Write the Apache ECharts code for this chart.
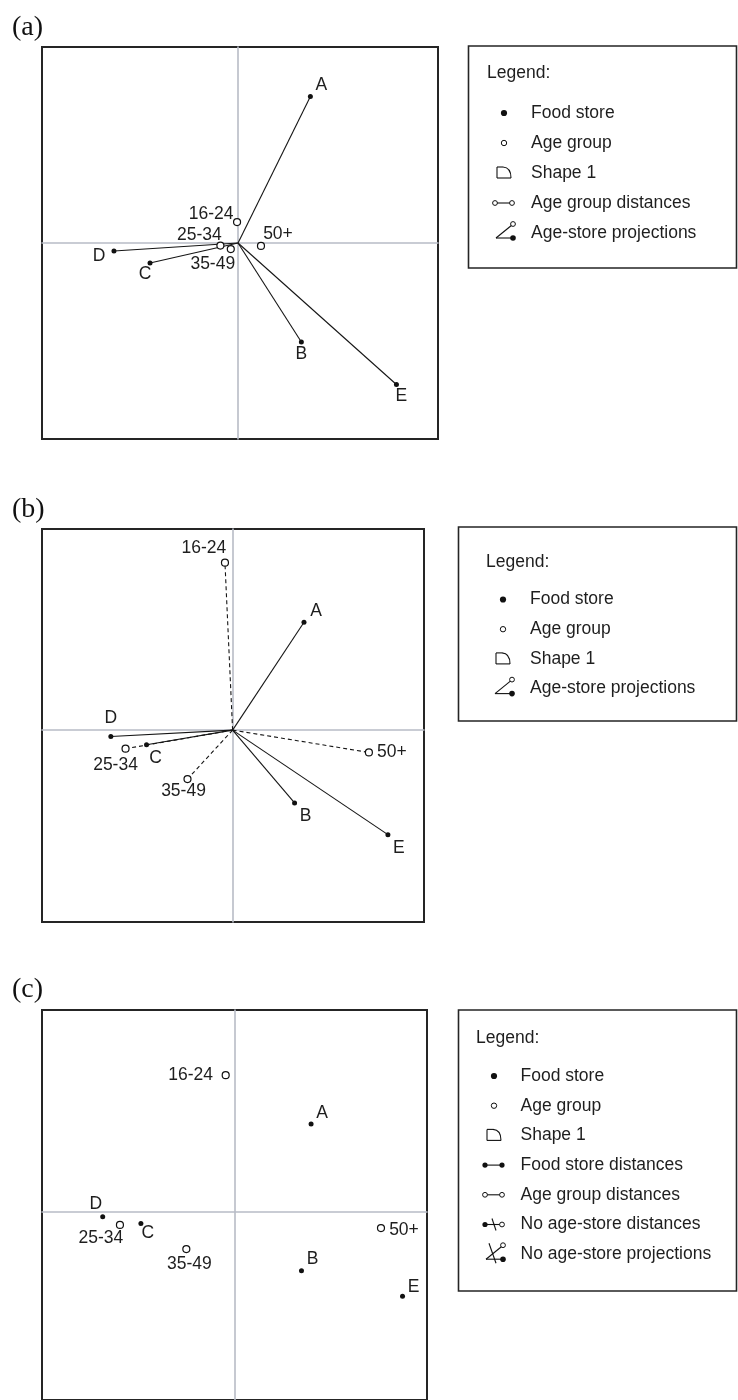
<!DOCTYPE html>
<html>
<head>
<meta charset="utf-8">
<script src="https://cdn.jsdelivr.net/npm/echarts@6/dist/echarts.min.js"></script>
<style>
html,body{margin:0;padding:0;background:#fff;}
#chart{width:738px;height:1400px;}
</style>
</head>
<body>
<div id="chart"></div>
<script>
// ---------- data ----------
const stores = ['A', 'B', 'C', 'D', 'E'];
const ageGroups = ['16-24', '25-34', '35-49', '50+'];

// panel (a)
const storeXA = [0.369, 0.323, -0.449, -0.633, 0.808];
const storeYA = [0.748, -0.505, -0.102, -0.041, -0.722];
const ageXA = [-0.005, -0.090, -0.037, 0.117];
const ageYA = [0.107, -0.013, -0.031, -0.015];

// panel (b)
const storeXB = [0.364, 0.316, -0.439, -0.621, 0.792];
const storeYB = [0.551, -0.372, -0.075, -0.033, -0.534];
const ageXB = [-0.039, -0.546, -0.230, 0.695];
const ageYB = [0.855, -0.095, -0.250, -0.114];

// panel (c)
const storeXC = [0.389, 0.340, -0.480, -0.675, 0.856];
const storeYC = [0.451, -0.303, -0.060, -0.026, -0.434];
const ageXC = [-0.047, -0.587, -0.248, 0.746];
const ageYC = [0.702, -0.068, -0.192, -0.084];

const panelTitles = ['(a)', '(b)', '(c)'];
const legendTitle = 'Legend:';
const legendA = ['Food store', 'Age group', 'Shape 1', 'Age group distances', 'Age-store projections'];
const legendB = ['Food store', 'Age group', 'Shape 1', 'Age-store projections'];
const legendC = ['Food store', 'Age group', 'Shape 1', 'Food store distances', 'Age group distances', 'No age-store distances', 'No age-store projections'];

// ---------- styling / layout (not data) ----------
const FONT = '"Liberation Sans", Arial, sans-serif';
const FS = 17.5;
const TXT = '#1e1e1e';
const AXIS_GRAY = '#b8bcc6';

const labelOffA = {
  'A': [11, -11], 'B': [0, 12], 'C': [-5, 11], 'D': [-15, 5], 'E': [5, 12],
  '16-24': [-26, -8], '25-34': [-21, -10], '35-49': [-18, 15], '50+': [17, -12]
};
const labelOffB = {
  'A': [12, -11], 'B': [11, 13], 'C': [9, 13], 'D': [0, -18], 'E': [11, 14],
  '16-24': [-21, -15], '25-34': [-10, 16], '35-49': [-4, 12], '50+': [23, 0]
};
const labelOffC = {
  'A': [11, -11], 'B': [11, -11], 'C': [7, 10], 'D': [-7, -13], 'E': [11, -9],
  '16-24': [-35, 0], '25-34': [-19, 13], '35-49': [3, 15], '50+': [23, 2]
};

const panels = [
  {grid: {left: 42, top: 47, width: 396, height: 392}, x: [-1.0, 1.02], y: [-1.0, 1.0],
   sx: storeXA, sy: storeYA, ax: ageXA, ay: ageYA, off: labelOffA, storeLines: true, ageLines: false},
  {grid: {left: 42, top: 529, width: 382, height: 393}, x: [-0.972, 0.976], y: [-0.98, 1.027],
   sx: storeXB, sy: storeYB, ax: ageXB, ay: ageYB, off: labelOffB, storeLines: true, ageLines: true},
  {grid: {left: 42, top: 1010, width: 385, height: 393}, x: [-0.985, 0.981], y: [-0.968, 1.037],
   sx: storeXC, sy: storeYC, ax: ageXC, ay: ageYC, off: labelOffC, storeLines: false, ageLines: false}
];

const grids = [], xAxes = [], yAxes = [], series = [];
panels.forEach((p, i) => {
  grids.push(Object.assign({show: true, borderColor: '#252525', borderWidth: 2, backgroundColor: 'transparent'}, p.grid));
  const axBase = {
    type: 'value', gridIndex: i,
    axisLine: {show: true, onZero: true, lineStyle: {color: AXIS_GRAY, width: 1.6}},
    axisTick: {show: false}, axisLabel: {show: false}, splitLine: {show: false}
  };
  xAxes.push(Object.assign({}, axBase, {min: p.x[0], max: p.x[1]}));
  yAxes.push(Object.assign({}, axBase, {min: p.y[0], max: p.y[1]}));

  if (p.storeLines) {
    series.push({
      type: 'lines', coordinateSystem: 'cartesian2d', xAxisIndex: i, yAxisIndex: i, z: 2,
      lineStyle: {color: '#151515', width: 1.1, opacity: 1, type: 'solid'},
      data: stores.map((s, k) => ({coords: [[0, 0], [p.sx[k], p.sy[k]]]}))
    });
  }
  if (p.ageLines) {
    series.push({
      type: 'lines', coordinateSystem: 'cartesian2d', xAxisIndex: i, yAxisIndex: i, z: 2,
      lineStyle: {color: '#151515', width: 1.1, opacity: 1, type: [4, 3]},
      data: ageGroups.map((s, k) => ({coords: [[0, 0], [p.ax[k], p.ay[k]]]}))
    });
  }
  const lbl = (name) => ({
    show: true, position: 'inside', offset: p.off[name], formatter: name,
    color: TXT, fontFamily: FONT, fontSize: FS, align: 'center', verticalAlign: 'middle'
  });
  series.push({
    type: 'scatter', xAxisIndex: i, yAxisIndex: i, z: 4, symbol: 'circle', symbolSize: 5,
    itemStyle: {color: '#111', opacity: 1}, silent: true,
    data: stores.map((s, k) => ({name: s, value: [p.sx[k], p.sy[k]], label: lbl(s)}))
  });
  series.push({
    type: 'scatter', xAxisIndex: i, yAxisIndex: i, z: 5, symbol: 'circle', symbolSize: 7,
    itemStyle: {color: '#fff', borderColor: '#111', borderWidth: 1.2, opacity: 1}, silent: true,
    data: ageGroups.map((s, k) => ({name: s, value: [p.ax[k], p.ay[k]], label: lbl(s)}))
  });
});

// ---------- legend boxes drawn as graphics ----------
const S = {stroke: '#111', lineWidth: 1.1, fill: null};
function icon(type, cx, cy) {
  const ch = [];
  const dot = (x, y, r) => ({type: 'circle', z: 10, shape: {cx: x, cy: y, r: r || 2.6}, style: {fill: '#111'}});
  const ring = (x, y, r) => ({type: 'circle', z: 11, shape: {cx: x, cy: y, r: r || 2.4}, style: {fill: '#fff', stroke: '#111', lineWidth: 1}});
  const line = (x1, y1, x2, y2) => ({type: 'line', z: 10, shape: {x1, y1, x2, y2}, style: S});
  if (type === 'dot') ch.push(dot(cx, cy, 3.1));
  if (type === 'circle') ch.push(ring(cx, cy, 2.7));
  if (type === 'shape') {
    ch.push(line(cx - 7, cy - 6, cx - 7, cy + 5));
    ch.push(line(cx - 7, cy + 5, cx + 7, cy + 5));
    ch.push(line(cx - 7, cy - 6, cx - 1, cy - 6));
    ch.push({type: 'bezierCurve', z: 10, shape: {x1: cx - 1, y1: cy - 6, x2: cx + 7, y2: cy + 5, cpx1: cx + 7, cpy1: cy - 5.5}, style: S});
  }
  if (type === 'storeDist') {
    ch.push(line(cx - 9, cy, cx + 8, cy)); ch.push(dot(cx - 9, cy)); ch.push(dot(cx + 8, cy));
  }
  if (type === 'ageDist') {
    ch.push(line(cx - 9, cy, cx + 8, cy)); ch.push(ring(cx - 9, cy)); ch.push(ring(cx + 8, cy));
  }
  if (type === 'noDist') {
    ch.push(line(cx - 9, cy, cx + 8, cy)); ch.push(dot(cx - 9, cy)); ch.push(ring(cx + 8, cy));
    ch.push(line(cx - 2, cy - 6, cx + 2, cy + 6));
  }
  if (type === 'proj' || type === 'noProj') {
    const ox = cx - 8, oy = cy + 5;
    ch.push(line(ox, oy, cx + 8, cy - 8));
    ch.push(line(ox, oy, cx + 9, oy));
    ch.push(ring(cx + 9, cy - 9));
    ch.push(dot(cx + 9, oy, 2.8));
    if (type === 'noProj') ch.push(line(cx - 5, cy - 11, cx + 2, cy + 9));
  }
  return ch;
}
const iconTypes = {
  'Food store': 'dot', 'Age group': 'circle', 'Shape 1': 'shape',
  'Food store distances': 'storeDist', 'Age group distances': 'ageDist',
  'No age-store distances': 'noDist', 'Age-store projections': 'proj', 'No age-store projections': 'noProj'
};
const legendBoxes = [
  {items: legendA, box: [468.5, 46, 268, 222], title: [487, 73], symX: 504, txtX: 531, row0: 113, step: 30},
  {items: legendB, box: [458.5, 527, 278, 194], title: [486, 562], symX: 503, txtX: 530, row0: 599.5, step: 29.7},
  {items: legendC, box: [458.5, 1010, 278, 281], title: [476, 1038], symX: 494, txtX: 520.5, row0: 1076, step: 29.7}
];
const graphics = [];
legendBoxes.forEach(L => {
  graphics.push({type: 'rect', shape: {x: L.box[0], y: L.box[1], width: L.box[2], height: L.box[3]},
    style: {fill: '#fff', stroke: '#252525', lineWidth: 1.6}, z: 1});
  graphics.push({type: 'text', x: L.title[0], y: L.title[1], z: 2,
    style: {text: legendTitle, fill: TXT, font: FS + 'px ' + FONT, textVerticalAlign: 'middle', verticalAlign: 'middle'}});
  L.items.forEach((name, k) => {
    const cy = L.row0 + k * L.step;
    icon(iconTypes[name], L.symX, cy).forEach(el => graphics.push(el));
    graphics.push({type: 'text', x: L.txtX, y: cy, z: 2,
      style: {text: name, fill: TXT, font: FS + 'px ' + FONT, textVerticalAlign: 'middle', verticalAlign: 'middle'}});
  });
});
const titleY = [27.5, 510, 990];
panelTitles.forEach((t, i) => {
  graphics.push({type: 'text', x: 12, y: titleY[i], z: 2,
    style: {text: t, fill: '#111', font: '28px "Liberation Serif", "Times New Roman", serif', textVerticalAlign: 'middle', verticalAlign: 'middle'}});
});

const chart = echarts.init(document.getElementById('chart'), null, {renderer: 'canvas'});
chart.setOption({
  animation: false,
  backgroundColor: '#fff',
  grid: grids, xAxis: xAxes, yAxis: yAxes,
  series: series,
  graphic: graphics
});
</script>
</body>
</html>
